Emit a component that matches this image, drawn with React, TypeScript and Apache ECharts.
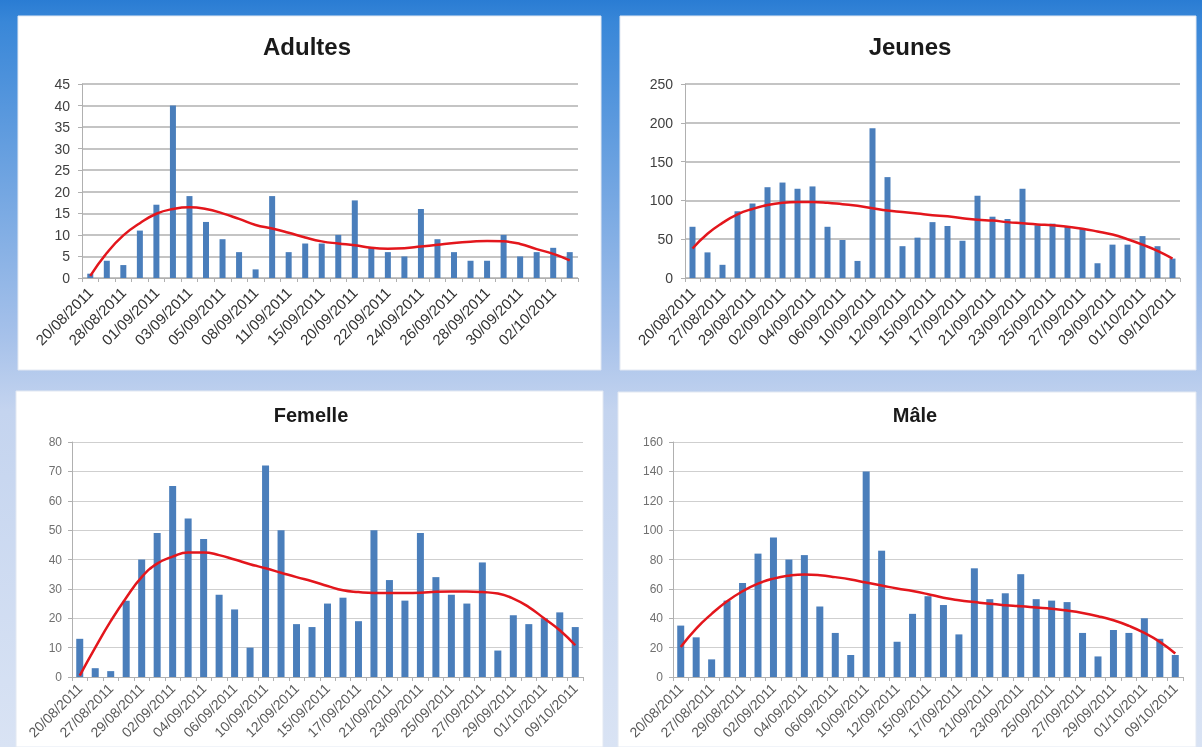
import React, { useEffect, useRef } from "react";
import * as echarts from "echarts";

const adultDates = ["20/08/2011","27/08/2011","28/08/2011","29/08/2011","01/09/2011","02/09/2011","03/09/2011","04/09/2011","05/09/2011","06/09/2011","08/09/2011","10/09/2011","11/09/2011","12/09/2011","15/09/2011","17/09/2011","20/09/2011","21/09/2011","22/09/2011","23/09/2011","24/09/2011","25/09/2011","26/09/2011","27/09/2011","28/09/2011","29/09/2011","30/09/2011","01/10/2011","02/10/2011","09/10/2011"];
const adultValues = [1,4,3,11,17,40,19,13,9,6,2,19,6,8,8,10,18,7,6,5,16,9,6,4,4,10,5,6,7,6];
const adultTrend = [0.5,5.8,9.9,12.7,14.9,16.0,16.4,16.0,15.0,13.7,12.3,11.5,10.5,9.4,8.5,8.0,7.6,7.0,6.8,6.9,7.3,7.7,8.1,8.4,8.6,8.5,7.9,6.7,5.6,4.1];

const dates = ["20/08/2011","26/08/2011","27/08/2011","28/08/2011","29/08/2011","01/09/2011","02/09/2011","03/09/2011","04/09/2011","05/09/2011","06/09/2011","08/09/2011","10/09/2011","11/09/2011","12/09/2011","13/09/2011","15/09/2011","16/09/2011","17/09/2011","20/09/2011","21/09/2011","22/09/2011","23/09/2011","24/09/2011","25/09/2011","26/09/2011","27/09/2011","28/09/2011","29/09/2011","30/09/2011","01/10/2011","02/10/2011","09/10/2011"];
const jeunesValues = [66,33,17,86,96,117,123,115,118,66,49,22,193,130,41,52,72,67,48,106,79,76,115,68,70,66,64,19,43,43,54,41,25];
const jeunesTrend = [38,57,71,82,89,94,97,98,98,97,95,93,90,87,85,83,81,79.5,77,75,74,72,70.5,69,68,66,63.5,60,56,50,43,35,25];
const femelleValues = [13,3,2,26,40,49,65,54,47,28,23,10,72,50,18,17,25,27,19,50,33,26,49,34,28,25,39,9,21,18,20,22,17];
const femelleTrend = [0.5,10,19,27,34,38.6,41,42.4,42.4,41.5,40,38.4,37,35.5,34,32.6,31,29.5,28.9,28.6,28.6,28.6,28.7,29,29.1,29.1,28.9,28.4,26.7,23.8,19.9,15.9,10.8];
const maleValues = [35,27,12,52,64,84,95,80,83,48,30,15,140,86,24,43,55,49,29,74,53,57,70,53,52,51,30,14,32,30,40,26,15];
const maleTrend = [20.5,33,43,51.6,58.4,63.6,67,69,69.8,69.3,68,66.4,64.3,62.3,60.2,58.5,56.4,54,52.3,51,49.8,48.9,48.2,47.3,46.4,45.2,43.6,41.4,38.6,34.8,30,23.9,16];

const titles = ["Adultes", "Jeunes", "Femelle", "Mâle"];
const yMax = [45, 250, 80, 160];
const yStep = [5, 50, 10, 20];

const FONT = "'Liberation Sans', Arial, sans-serif";

export default function App() {
  const ref = useRef<HTMLDivElement>(null);
  useEffect(() => {
    if (!ref.current) return;
    const chart = echarts.init(ref.current, undefined, { renderer: "svg" });
    const grids = [
      { left: 82, right: 624, top: 84, height: 194 },
      { left: 685, right: 22, top: 84, height: 194 },
      { left: 72, right: 619, top: 442, height: 235 },
      { left: 673, right: 19, top: 442, height: 235 },
    ];
    const cats = [adultDates, dates, dates, dates];
    const vals = [adultValues, jeunesValues, femelleValues, maleValues];
    const trends = [adultTrend, jeunesTrend, femelleTrend, maleTrend];
    const top = (i: number) => i < 2;
    const titleCenters = [307, 910, 311, 915];
    const titleTops = [34, 34, 405, 405];

    const option: any = {
      animation: false,
      backgroundColor: "transparent",
      title: titles.map((t, i) => ({
        text: t,
        left: titleCenters[i],
        top: titleTops[i],
        textAlign: "center",
        padding: 0,
        textStyle: {
          fontFamily: FONT,
          fontWeight: "bold",
          fontSize: top(i) ? 24 : 20,
          color: "#1a1a1a",
        },
      })),
      graphic: [
        {
          type: "rect",
          z: -10,
          shape: { x: 0, y: 0, width: 1202, height: 747 },
          style: {
            fill: new echarts.graphic.LinearGradient(0, 0, 0, 1, [
              { offset: 0, color: "#2a7cd3" },
              { offset: 0.03, color: "#3987d8" },
              { offset: 0.45, color: "#a6c1ea" },
              { offset: 0.55, color: "#c4d4ef" },
              { offset: 1, color: "#d9e3f4" },
            ]),
          },
        },
        { type: "rect", z: -9, shape: { x: 18, y: 16, width: 583, height: 354 }, style: { fill: "#ffffff", stroke: "#e2e8f2", lineWidth: 1 } },
        { type: "rect", z: -9, shape: { x: 620, y: 16, width: 576, height: 354 }, style: { fill: "#ffffff", stroke: "#e2e8f2", lineWidth: 1 } },
        { type: "rect", z: -9, shape: { x: 16, y: 391, width: 587, height: 356 }, style: { fill: "#ffffff", stroke: "#e2e8f2", lineWidth: 1 } },
        { type: "rect", z: -9, shape: { x: 618, y: 392, width: 578, height: 355 }, style: { fill: "#ffffff", stroke: "#e2e8f2", lineWidth: 1 } },
      ],
      grid: grids.map((g) => ({ ...g, containLabel: false })),
      xAxis: cats.map((c, i) => ({
        type: "category",
        gridIndex: i,
        data: c,
        boundaryGap: true,
        axisLine: { lineStyle: { color: "#b0b0b0", width: 1 } },
        axisTick: { show: true, interval: 0, length: 4, lineStyle: { color: "#b0b0b0" } },
        axisLabel: {
          interval: 1,
          rotate: 45,
          margin: top(i) ? 12 : 9,
          fontFamily: FONT,
          fontSize: top(i) ? 15 : 14,
          color: top(i) ? "#333333" : "#595959",
        },
        splitLine: { show: false },
      })),
      yAxis: yMax.map((m, i) => ({
        type: "value",
        gridIndex: i,
        min: 0,
        max: m,
        interval: yStep[i],
        axisLine: { show: true, lineStyle: { color: "#b0b0b0" } },
        axisTick: { show: true, length: 4, lineStyle: { color: "#b0b0b0" } },
        axisLabel: {
          margin: top(i) ? 12 : 10,
          fontFamily: FONT,
          fontSize: top(i) ? 14 : 12,
          color: top(i) ? "#404040" : "#707070",
        },
        splitLine: { show: true, lineStyle: { color: top(i) ? "#b0b0b0" : "#cfcfcf", width: top(i) ? 1.5 : 1 } },
      })),
      series: [
        ...vals.map((v, i) => ({
          type: "bar",
          name: titles[i],
          xAxisIndex: i,
          yAxisIndex: i,
          data: v,
          barWidth: top(i) ? 6 : 7,
          itemStyle: { color: "#4a7ebb" },
          z: 2,
        })),
        ...trends.map((t, i) => ({
          type: "line",
          name: titles[i] + " tendance",
          xAxisIndex: i,
          yAxisIndex: i,
          data: t,
          smooth: true,
          showSymbol: false,
          symbol: "none",
          lineStyle: { color: "#e3161c", width: 2.5 },
          z: 3,
        })),
      ],
    };
    chart.setOption(option);
    return () => chart.dispose();
  }, []);
  return (
    <div
      ref={ref}
      style={{ position: "fixed", left: 0, top: 0, width: 1202, height: 747 }}
    />
  );
}
